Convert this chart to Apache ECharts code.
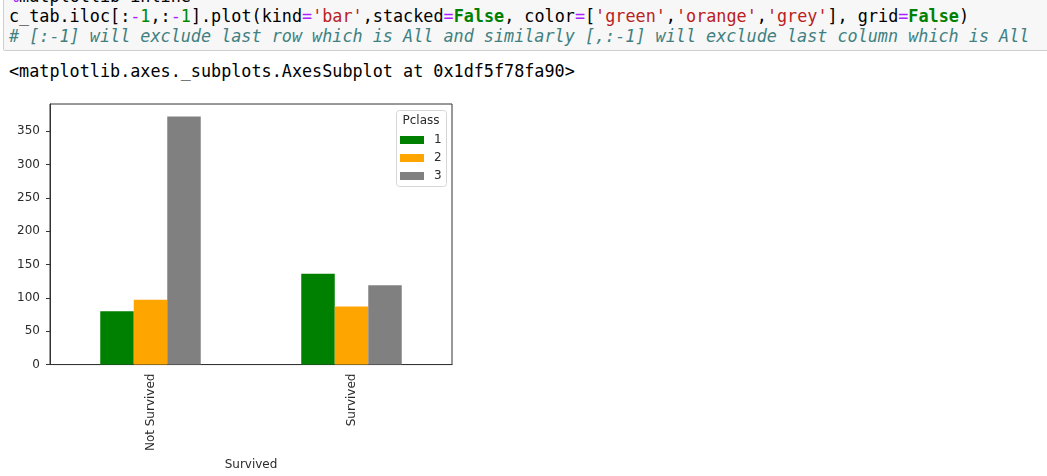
<!DOCTYPE html>
<html>
<head>
<meta charset="utf-8">
<script src="https://cdn.jsdelivr.net/npm/echarts@6/dist/echarts.min.js"></script>
<style>
  html, body { margin: 0; padding: 0; width: 1047px; height: 476px; overflow: hidden; background: #fff; }
  #cell { position: absolute; left: 3px; top: -30px; width: 1100px; height: 81px; background: #f7f7f7; border: 1px solid #cfcfcf; border-radius: 2px; box-sizing: border-box; }
  .code { position: absolute; left: 9px; font-family: "DejaVu Sans Mono", monospace; font-size: 16.8px; line-height: 20px; white-space: pre; color: #000; }
  .o { color: #aa22ff; }
  .n { color: #008800; }
  .s { color: #ba2121; }
  .k { color: #008000; font-weight: bold; }
  .c { color: #408080; font-style: italic; }
  #chart { position: absolute; left: 0; top: 0; width: 1047px; height: 476px; }
</style>
</head>
<body>
<div id="cell"></div>
<div class="code" style="top:-14px"><span class="o">%</span>matplotlib inline</div>
<div class="code" style="top:6px">c_tab.iloc[:<span class="o">-</span><span class="n">1</span>,:<span class="o">-</span><span class="n">1</span>].plot(kind<span class="o">=</span><span class="s">'bar'</span>,stacked<span class="o">=</span><span class="k">False</span>, color<span class="o">=</span>[<span class="s">'green'</span>,<span class="s">'orange'</span>,<span class="s">'grey'</span>], grid<span class="o">=</span><span class="k">False</span>)</div>
<div class="code" style="top:26px"><span class="c"># [:-1] will exclude last row which is All and similarly [,:-1] will exclude last column which is All</span></div>
<div class="code" style="top:61px">&lt;matplotlib.axes._subplots.AxesSubplot at 0x1df5f78fa90&gt;</div>
<div id="chart"></div>
<script>
const categories = ['Not Survived', 'Survived'];
const seriesNames = ['1', '2', '3'];
const pclass1 = [80, 136];
const pclass2 = [97, 87];
const pclass3 = [372, 119];
const yTicks = [0, 50, 100, 150, 200, 250, 300, 350];
const colors = ['green', 'orange', 'grey'];

const allVals = pclass1.concat(pclass2, pclass3);
const yMax = Math.max.apply(null, allVals) * 1.05;

const chart = echarts.init(document.getElementById('chart'), null, { renderer: 'canvas' });
const font = 'DejaVu Sans';
const txt = '#2b2b2b';
chart.setOption({
  animation: false,
  backgroundColor: 'transparent',
  grid: { left: 50, right: 595, top: 104, bottom: 110, show: true, borderColor: '#333', borderWidth: 1, backgroundColor: 'transparent' },
  legend: {
    orient: 'vertical', left: 400, top: 133, padding: 0,
    itemWidth: 24, itemHeight: 8, itemGap: 4, icon: 'rect',
    textStyle: { fontFamily: font, fontSize: 12, color: txt, lineHeight: 14, padding: [0, 0, 0, 5] },
    data: seriesNames
  },
  graphic: [
    { type: 'rect', shape: { x: 396.5, y: 110.5, width: 50, height: 76, r: 3 }, style: { fill: 'rgba(255,255,255,0.8)', stroke: '#d6d6d6', lineWidth: 1 }, z: 1 },
    { type: 'text', x: 421, y: 121, style: { text: 'Pclass', fontFamily: font, fontSize: 12, fill: txt, align: 'center', verticalAlign: 'middle' }, z: 2 }
  ],
  xAxis: {
    type: 'category', data: categories,
    name: 'Survived', nameLocation: 'middle', nameGap: 89,
    nameTextStyle: { fontFamily: font, fontSize: 12, color: txt, verticalAlign: 'top' },
    axisLine: { lineStyle: { color: '#333', width: 1 } },
    axisTick: { alignWithLabel: true, length: 4, lineStyle: { color: '#333' } },
    axisLabel: { rotate: 90, margin: 9, fontFamily: font, fontSize: 12, color: txt, interval: 0 },
    splitLine: { show: false }
  },
  yAxis: {
    type: 'value', min: 0, max: yMax,
    axisLine: { show: true, lineStyle: { color: '#333', width: 1 } },
    axisTick: { show: true, length: 4, lineStyle: { color: '#333' }, customValues: yTicks },
    axisLabel: { margin: 10, fontFamily: font, fontSize: 12, color: txt, customValues: yTicks },
    splitLine: { show: false }
  },
  series: [pclass1, pclass2, pclass3].map((d, i) => ({
    type: 'bar', name: seriesNames[i], data: d,
    barWidth: 33.5, barGap: '0%',
    itemStyle: { color: colors[i] }
  }))
});
</script>
</body>
</html>
